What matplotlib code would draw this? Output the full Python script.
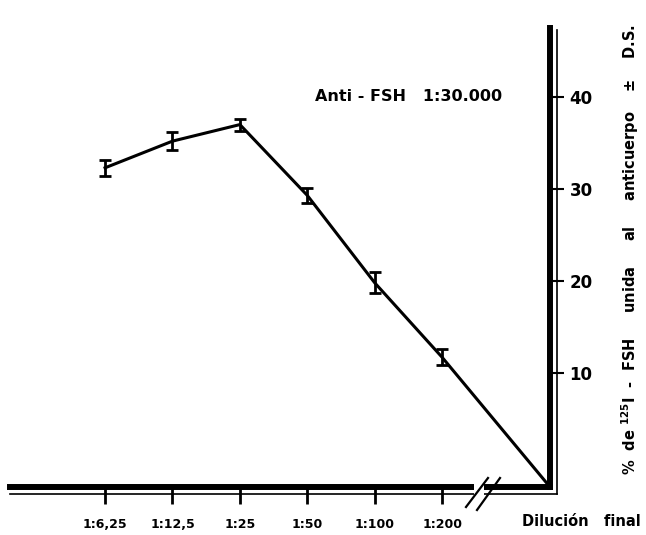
import matplotlib
matplotlib.use("Agg")
import matplotlib.pyplot as plt
from matplotlib.lines import Line2D
from matplotlib.patches import Rectangle

plt.rcParams['font.family'] = ['DejaVu Sans']
plt.rcParams['font.weight'] = 'bold'
plt.rcParams['mathtext.default'] = 'bf'

# data
diluciones = ["1:6,25", "1:12,5", "1:25", "1:50", "1:100", "1:200"]
unida = [32.3, 35.2, 37.0, 29.3, 19.8, 11.7]
ds = [0.9, 1.0, 0.65, 0.8, 1.15, 0.85]
y_ticks = [10, 20, 30, 40]

# axis limits (the curve runs down into the corner of the axes)
x_left, x_end = -1.41, 6.6
y_floor, y_top = -2.4, 47.5

W, H = 646, 535
fig = plt.figure(figsize=(W / 100, H / 100), dpi=100)

def fx(px):
    return px / W

def fy(py):
    return 1 - py / H

# axes box in pixels: left 10, right 550, top 28, bottom 487
ax = fig.add_axes([fx(10), fy(487), fx(550) - fx(10), fy(28) - fy(487)])
ax.set_xlim(x_left, x_end)
ax.set_ylim(y_floor, y_top)

xs = list(range(len(diluciones)))

# curve through the points and down to the corner
ax.plot(xs + [x_end], unida + [y_floor], color='black', lw=2.2,
        solid_joinstyle='round', clip_on=False, zorder=3)
ax.errorbar(xs, unida, yerr=ds, fmt='none', ecolor='black', elinewidth=2,
            capsize=4, capthick=2, zorder=4)

# spines
for s in ['left', 'top']:
    ax.spines[s].set_visible(False)
ax.spines['right'].set_linewidth(4.3)
ax.spines['bottom'].set_linewidth(4.3)

ax.yaxis.tick_right()
ax.set_yticks(y_ticks)
ax.set_yticklabels([str(v) for v in y_ticks], fontsize=12, fontweight='bold')
ax.tick_params(axis='y', direction='out', length=10, width=1.5, pad=4)

ax.set_xticks(xs)
ax.set_xticklabels(diluciones, fontsize=9, fontweight='bold')
ax.tick_params(axis='x', direction='out', length=12, width=2, pad=10)

# thin parallel lines next to the thick axes
fig.add_artist(Line2D([fx(557), fx(557)], [fy(30), fy(494)], color='black', lw=1.2))
fig.add_artist(Line2D([fx(10), fx(557)], [fy(494), fy(494)], color='black', lw=1.2))

# axis break
fig.add_artist(Rectangle((fx(474), fy(498)), fx(10), fy(480) - fy(498),
                         facecolor='white', edgecolor='none', zorder=5))
fig.add_artist(Line2D([fx(466), fx(488)], [fy(507), fy(478)], color='black', lw=1.6, zorder=6))
fig.add_artist(Line2D([fx(477), fx(500)], [fy(510), fy(478)], color='black', lw=1.6, zorder=6))

# texts
ax.text(0.565, 0.85, "Anti - FSH   1:30.000", transform=ax.transAxes,
        fontsize=11.5, fontweight='bold', ha='left', va='center')
fig.text(fx(581), fy(522), "Dilución   final", fontsize=10.5, fontweight='bold',
         ha='center', va='center')
fig.text(fx(630), fy(250),
         r"%  de $^{125}$I  -  FSH     unida     al     anticuerpo    ±    D.S.",
         rotation=90, fontsize=10.5, fontweight='bold', ha='center', va='center')

fig.savefig("out.png", dpi=100)
